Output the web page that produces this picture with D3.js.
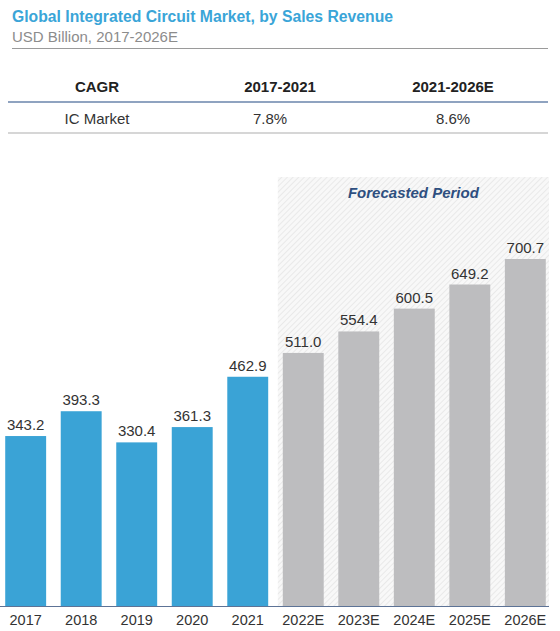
<!DOCTYPE html>
<html lang="en">
<head>
    <meta charset="UTF-8">
    <title>Global Integrated Circuit Market, by Sales Revenue</title>
    <script src="https://d3js.org/d3.v7.min.js"></script>
    <style>
        body { margin: 0; background: #fff; font-family: "Liberation Sans", Arial, sans-serif; }
    </style>
</head>
<body>
    <div id="chart-container"></div>
    <script>
        const years = ["2017", "2018", "2019", "2020", "2021", "2022E", "2023E", "2024E", "2025E", "2026E"];
        const revenue = [343.2, 393.3, 330.4, 361.3, 462.9, 511.0, 554.4, 600.5, 649.2, 700.7];
        const forecastYears = ["2022E", "2023E", "2024E", "2025E", "2026E"];
        const cagrHeader = ["CAGR", "2017-2021", "2021-2026E"];
        const cagrRow = ["IC Market", "7.8%", "8.6%"];

        const W = 560, H = 631;
        const svg = d3.select("#chart-container").append("svg")
            .attr("width", W).attr("height", H);

        // hatch pattern for forecast area
        const defs = svg.append("defs");
        const pat = defs.append("pattern")
            .attr("id", "hatch").attr("patternUnits", "userSpaceOnUse")
            .attr("width", 4).attr("height", 4)
            .attr("patternTransform", "rotate(45)");
        pat.append("rect").attr("width", 4).attr("height", 4).attr("fill", "#f8f8f8");
        pat.append("line").attr("x1", 0).attr("y1", 0).attr("x2", 0).attr("y2", 4)
            .attr("stroke", "#e4e4e4").attr("stroke-width", 1.5);

        // title
        svg.append("text").attr("x", 12).attr("y", 22)
            .attr("font-size", 15.8).attr("font-weight", "bold").attr("fill", "#3aa5d8")
            .attr("textLength", 381).attr("lengthAdjust", "spacingAndGlyphs")
            .text("Global Integrated Circuit Market, by Sales Revenue");
        svg.append("text").attr("x", 12).attr("y", 42)
            .attr("font-size", 15).attr("fill", "#8c8c8c")
            .text("USD Billion, 2017-2026E");
        svg.append("line").attr("x1", 12).attr("x2", 548).attr("y1", 48.5).attr("y2", 48.5)
            .attr("stroke", "#9a9a9a").attr("stroke-width", 1);

        // CAGR table
        const colX = [97, 280, 453];
        svg.append("g").selectAll("text").data(cagrHeader).join("text")
            .attr("x", (d, i) => colX[i]).attr("y", 92)
            .attr("text-anchor", "middle").attr("font-size", 15).attr("font-weight", "bold")
            .attr("fill", "#222").text(d => d);
        svg.append("line").attr("x1", 8).attr("x2", 548).attr("y1", 102).attr("y2", 102)
            .attr("stroke", "#8fa3c0").attr("stroke-width", 2);
        svg.append("g").selectAll("text").data(cagrRow).join("text")
            .attr("x", (d, i) => colX[i] - (i === 1 ? 10 : 0)).attr("y", 124)
            .attr("text-anchor", "middle").attr("font-size", 15)
            .attr("fill", "#333").text(d => d);
        svg.append("line").attr("x1", 8).attr("x2", 548).attr("y1", 133).attr("y2", 133)
            .attr("stroke", "#d6d6d6").attr("stroke-width", 2);

        // bars
        const baseY = 606, topY = 259;
        const x = d3.scaleBand().domain(years).range([-2, 553])
            .paddingInner(0.263).paddingOuter(0.13);
        const y = d3.scaleLinear().domain([0, d3.max(revenue)]).range([baseY, topY]);

        const fx0 = x(forecastYears[0]) - 5;
        svg.append("rect").attr("x", fx0).attr("y", 177)
            .attr("width", 549 - fx0).attr("height", baseY - 177)
            .attr("fill", "url(#hatch)");
        svg.append("text").attr("x", (fx0 + 549) / 2).attr("y", 198)
            .attr("text-anchor", "middle").attr("font-size", 15)
            .attr("font-weight", "bold").attr("font-style", "italic")
            .attr("fill", "#2e4f7f").text("Forecasted Period");

        const data = years.map((d, i) => ({ year: d, value: revenue[i] }));
        svg.append("g").selectAll("rect").data(data).join("rect")
            .attr("x", d => x(d.year)).attr("y", d => y(d.value))
            .attr("width", x.bandwidth()).attr("height", d => baseY - y(d.value))
            .attr("fill", d => forecastYears.includes(d.year) ? "#bdbdbf" : "#3aa3d6");

        svg.append("g").selectAll("text").data(data).join("text")
            .attr("x", d => x(d.year) + x.bandwidth() / 2).attr("y", d => y(d.value) - 6)
            .attr("text-anchor", "middle").attr("font-size", 15).attr("fill", "#333")
            .text(d => d.value.toFixed(1));

        // x axis
        const axis = svg.append("g").attr("transform", `translate(0,${baseY})`)
            .call(d3.axisBottom(x).tickSize(0).tickPadding(9));
        axis.select(".domain").attr("d", "M0,0.5H549").attr("stroke", "#5d7396");
        axis.selectAll("text").attr("font-size", 14.5).attr("fill", "#333")
            .attr("font-family", "Liberation Sans, Arial, sans-serif");
    </script>
</body>
</html>
